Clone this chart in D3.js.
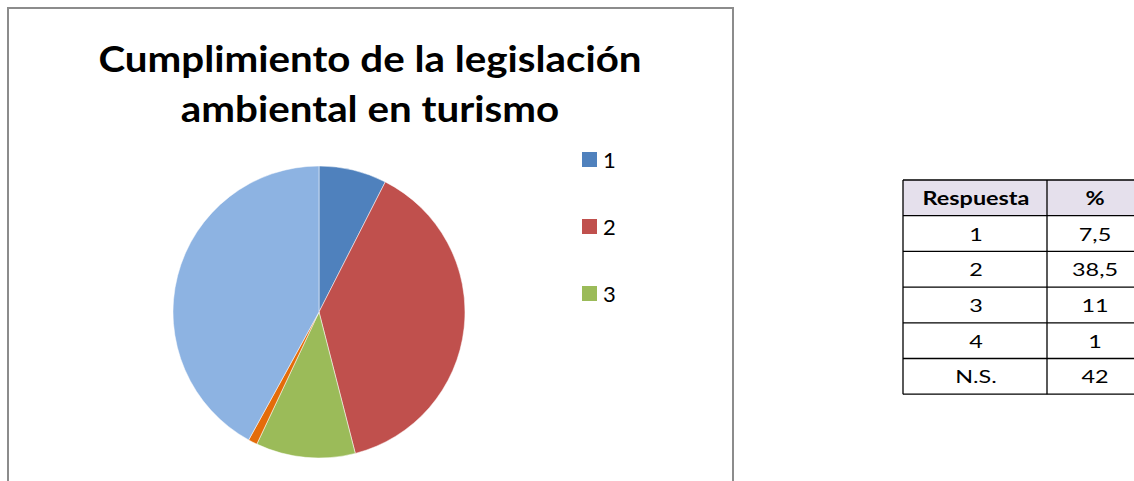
<!DOCTYPE html>
<html>
<head>
<meta charset="utf-8">
<style>
body { margin: 0; background: #fff; }
text { font-family: Lato, "Open Sans", sans-serif; }
</style>
</head>
<body>
<script src="https://cdn.jsdelivr.net/npm/d3@7"></script>
<script>
// data
var categories = ["1", "2", "3", "4", "N.S."];
var values = [7.5, 38.5, 11, 1, 42];
var valueLabels = ["7,5", "38,5", "11", "1", "42"];
var colors = ["#4f81bd", "#c0504d", "#9bbb59", "#e46c0a", "#8db3e2"];
var titleLines = ["Cumplimiento de la legislación", "ambiental en turismo"];
var legendShown = 3; // the legend in the original is cut after 3 items

var width = 1134, height = 481;

var svg = d3.select("body").append("svg")
    .attr("width", width)
    .attr("height", height);

// chart frame
svg.append("rect")
    .attr("x", 8).attr("y", 8)
    .attr("width", 725).attr("height", 500)
    .attr("fill", "#fff")
    .attr("stroke", "#8c8c8c")
    .attr("stroke-width", 2);

// title (Calibri-like look is wider than Lato, so stretch it a bit)
svg.append("g")
    .attr("transform", "translate(370,0) scale(1.12,1)")
    .selectAll("text")
    .data(titleLines)
    .enter().append("text")
    .attr("x", 0)
    .attr("y", function(d, i) { return 72 + i * 50; })
    .attr("text-anchor", "middle")
    .style("font-size", "36px")
    .style("font-weight", "bold")
    .attr("fill", "#000")
    .text(function(d) { return d; });

// pie
var pie = d3.pie().sort(null).value(function(d) { return d; });
var arc = d3.arc().innerRadius(0).outerRadius(146);
var color = d3.scaleOrdinal().domain(categories).range(colors);

var g = svg.append("g").attr("transform", "translate(319,312)");
g.selectAll("path")
    .data(pie(values))
    .enter().append("path")
    .attr("d", arc)
    .attr("fill", function(d, i) { return color(categories[i]); })
    .attr("stroke", "#fff")
    .attr("stroke-width", 0.5);

// legend
var legend = svg.append("g").selectAll("g")
    .data(categories.slice(0, legendShown))
    .enter().append("g")
    .attr("transform", function(d, i) { return "translate(582," + (152 + i * 67) + ")"; });
legend.append("rect")
    .attr("width", 15).attr("height", 15)
    .attr("fill", function(d) { return color(d); });
legend.append("text")
    .attr("x", 21).attr("y", 16)
    .style("font-size", "22px")
    .attr("fill", "#000")
    .text(function(d) { return d; });

// table
var tx = 903, ty = 180, rowH = 35.7, col1 = 144, col2 = 100;
var sx = 1.3;
var table = svg.append("g");
var rows = [["Respuesta", "%"]].concat(categories.map(function(c, i) { return [c, valueLabels[i]]; }));

table.append("rect")
    .attr("x", tx).attr("y", ty)
    .attr("width", col1 + col2).attr("height", rowH)
    .attr("fill", "#e5e0ec");

var row = table.selectAll("g.row")
    .data(rows)
    .enter().append("g")
    .attr("class", "row")
    .attr("transform", function(d, i) { return "translate(" + tx + "," + (ty + i * rowH) + ")"; });

row.append("text")
    .attr("transform", "translate(" + (col1 / 2 + 1) + "," + (rowH / 2 + 7) + ") scale(" + sx + ",1)")
    .attr("text-anchor", "middle")
    .style("font-size", "18px")
    .style("font-weight", function(d, i) { return i == 0 ? "bold" : "normal"; })
    .text(function(d) { return d[0]; });
row.append("text")
    .attr("transform", "translate(" + (col1 + 48) + "," + (rowH / 2 + 7) + ") scale(" + sx + ",1)")
    .attr("text-anchor", "middle")
    .style("font-size", "18px")
    .style("font-weight", function(d, i) { return i == 0 ? "bold" : "normal"; })
    .text(function(d) { return d[1]; });

// grid lines
d3.range(rows.length + 1).forEach(function(i) {
  table.append("line")
      .attr("x1", tx).attr("x2", tx + col1 + col2)
      .attr("y1", ty + i * rowH).attr("y2", ty + i * rowH)
      .attr("stroke", "#000").attr("stroke-width", 1.3);
});
[0, col1].forEach(function(x) {
  table.append("line")
      .attr("x1", tx + x).attr("x2", tx + x)
      .attr("y1", ty).attr("y2", ty + rows.length * rowH)
      .attr("stroke", "#000").attr("stroke-width", 1.3);
});
</script>
</body>
</html>
